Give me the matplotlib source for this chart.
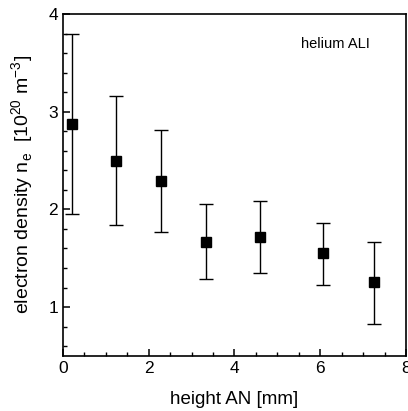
import matplotlib.pyplot as plt
from matplotlib.ticker import MultipleLocator

plt.rcParams["font.family"] = ["Liberation Sans", "DejaVu Sans"]

# data
height_mm = [0.22, 1.23, 2.29, 3.33, 4.59, 6.07, 7.26]
density = [2.87, 2.50, 2.29, 1.67, 1.72, 1.55, 1.26]
err_upper = [3.79, 3.16, 2.81, 2.05, 2.09, 1.86, 1.67]
err_lower = [1.95, 1.84, 1.77, 1.29, 1.35, 1.23, 0.83]

yerr = [
    [d - lo for d, lo in zip(density, err_lower)],
    [up - d for d, up in zip(density, err_upper)],
]

fig = plt.figure(figsize=(4.08, 4.11), dpi=100)
ax = fig.add_axes([0.154, 0.134, 0.841, 0.832])

ax.errorbar(height_mm, density, yerr=yerr, fmt="s", color="black", ms=6.5,
            ecolor="black", elinewidth=1.0, capsize=5, capthick=1.0)

ax.set_xlim(0, 8)
ax.set_ylim(0.5, 4)
ax.xaxis.set_major_locator(MultipleLocator(2))
ax.xaxis.set_minor_locator(MultipleLocator(0.5))
ax.yaxis.set_major_locator(MultipleLocator(1))
ax.yaxis.set_minor_locator(MultipleLocator(0.2))
ax.tick_params(which="both", direction="in", top=False, right=False, labelsize=12.5)
ax.tick_params(which="major", length=5, width=1.1)
ax.tick_params(which="minor", length=3, width=1.0)
for sp in ax.spines.values():
    sp.set_linewidth(1.2)

ax.text(5.55, 3.69, "helium ALI", fontsize=10.5, va="center", ha="left")
ax.set_xlabel("height AN [mm]", fontsize=13.5, labelpad=11)
ax.set_ylabel(r"electron density n$_\mathregular{e}$  [10$^\mathregular{20}$ m$^\mathregular{-3}$]",
              fontsize=14, labelpad=9)

fig.savefig("out.png", dpi=100)
